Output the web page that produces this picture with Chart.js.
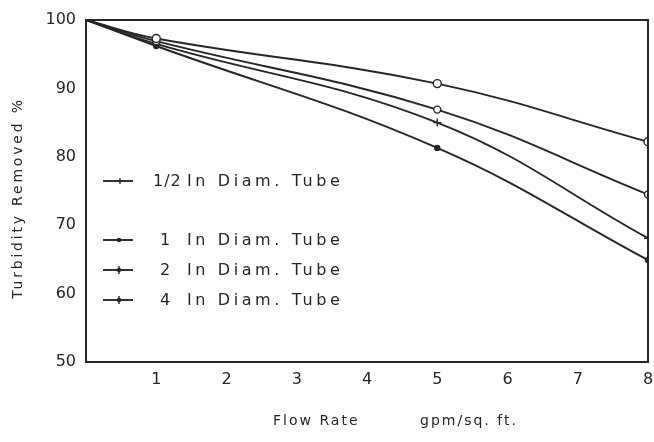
<!DOCTYPE html>
<html>
<head>
<meta charset="utf-8">
<script src="https://cdn.jsdelivr.net/npm/chart.js@4"></script>
<style>
  html, body { margin: 0; padding: 0; background: #fff; }
  #wrap { width: 654px; height: 442px; }
</style>
</head>
<body>
<div id="wrap"><canvas id="chart" width="654" height="442"></canvas></div>
<script>
// flow rate, gpm/sq. ft.
const flowRate = [0, 1, 5, 8]

const halfInch = [100, 97.3, 90.7, 82.2]
const oneInch = [100, 96.9, 86.9, 74.5]
const twoInch = [100, 96.5, 85.0, 68.1]
const fourInch = [100, 96.2, 81.3, 64.9]

const seriesLabels = ["1/2 In Diam. Tube", "1 In Diam. Tube", "2 In Diam. Tube", "4 In Diam. Tube"]
const xTicks = [1, 2, 3, 4, 5, 6, 7, 8]
const yTicks = [50, 60, 70, 80, 90, 100]
const xTitle = ["Flow Rate", "gpm/sq. ft."]
const yTitle = "Turbidity Removed %"

const ink = "#262626"
const font = "'DejaVu Sans', sans-serif"

function pts(vals) {
    return flowRate.map((x, i) => ({ x: x, y: vals[i] }))
}

function ds(label, vals, style, radius, fill) {
    return {
        label: label, data: pts(vals),
        borderColor: ink, borderWidth: 1.9,
        pointStyle: style, pointRadius: [0, radius, radius, radius],
        pointBackgroundColor: fill, pointBorderColor: ink, pointBorderWidth: 1.4,
        tension: 0.4, fill: false
    }
}

// box round the plot, legend inside it, axis titles
const boxAndLegend = {
    id: "boxAndLegend",
    afterDraw(chart) {
        const c = chart.ctx, a = chart.chartArea
        c.save()
        c.strokeStyle = ink
        c.lineWidth = 2
        c.strokeRect(a.left, a.top, a.right - a.left, a.bottom - a.top)

        const rows = [181, 240, 270, 300]
        chart.data.datasets.forEach((d, i) => {
            const y = rows[i]
            c.strokeStyle = ink
            c.lineWidth = 1.9
            c.beginPath(); c.moveTo(103, y); c.lineTo(133, y); c.stroke()
            c.beginPath()
            if (i === 0) {
                c.lineWidth = 1.4
                c.moveTo(120, y - 3); c.lineTo(120, y + 3); c.stroke()
            } else {
                c.fillStyle = ink
                c.arc(119, y, 2.2, 0, Math.PI * 2); c.fill()
                if (i > 1) { c.beginPath(); c.moveTo(119, y - 4); c.lineTo(119, y + 4); c.lineWidth = 1.4; c.stroke() }
            }
            const num = d.label.split(" ")[0]
            const rest = d.label.slice(num.length + 1)
            c.fillStyle = ink
            c.font = "16px " + font
            c.textBaseline = "middle"
            c.textAlign = "left"
            c.letterSpacing = "1px"
            c.fillText(num, i === 0 ? 153 : 160, y + 1)
            c.letterSpacing = "3.6px"
            c.fillText(rest, 187, y + 1)
        })

        c.font = "14px " + font
        c.textBaseline = "middle"
        c.letterSpacing = "2px"
        c.fillText(xTitle[0], 273, 421)
        c.fillText(xTitle[1], 420, 421)

        c.translate(18, 198)
        c.rotate(-Math.PI / 2)
        c.textAlign = "center"
        c.letterSpacing = "2.8px"
        c.fillText(yTitle, 0, 0)
        c.restore()
    }
}

new Chart(document.getElementById("chart").getContext("2d"), {
    type: "line",
    data: {
        datasets: [
            ds(seriesLabels[0], halfInch, "circle", 4, "#fff"),
            ds(seriesLabels[1], oneInch, "circle", 3.5, "#fff"),
            ds(seriesLabels[2], twoInch, "cross", 4, ink),
            ds(seriesLabels[3], fourInch, "circle", 2.5, ink)
        ]
    },
    options: {
        responsive: false, animation: false,
        layout: { padding: { left: 0, right: 6, top: 20, bottom: 0 } },
        plugins: { legend: { display: false }, tooltip: { enabled: false } },
        scales: {
            x: {
                type: "linear", min: 0, max: 8,
                afterBuildTicks: s => { s.ticks = xTicks.map(v => ({ value: v })) },
                afterFit: s => { s.height = 80; s.paddingRight = 0; s.paddingLeft = 0 },
                grid: { display: false, drawTicks: false },
                border: { display: true, color: ink, width: 2 },
                ticks: { color: ink, padding: 8, font: { family: font, size: 16 } }
            },
            y: {
                min: 50, max: 100,
                afterBuildTicks: s => { s.ticks = yTicks.map(v => ({ value: v })) },
                afterFit: s => { s.width = 86; s.paddingTop = 0; s.paddingBottom = 0 },
                grid: { display: false, drawTicks: false },
                border: { display: true, color: ink, width: 2 },
                ticks: { color: ink, padding: 10, font: { family: font, size: 16 } }
            }
        }
    },
    plugins: [boxAndLegend]
})
</script>
</body>
</html>
